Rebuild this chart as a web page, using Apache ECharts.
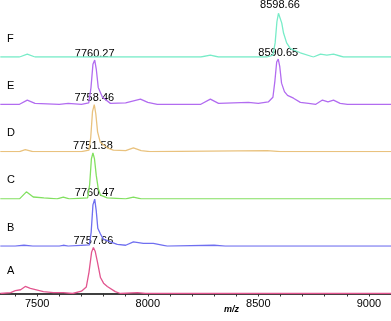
<!DOCTYPE html>
<html>
<head>
<meta charset="utf-8">
<script src="https://cdn.jsdelivr.net/npm/echarts@6/dist/echarts.min.js"></script>
<style>
  html, body { margin: 0; padding: 0; background: #fff; }
  #chart { width: 391px; height: 321px; }
</style>
</head>
<body>
<div id="chart"></div>
<script>
// traces from bottom (A) to top (F), [m/z, relative intensity]
const traceNames = ['A', 'B', 'C', 'D', 'E', 'F']
const traceColors = ['#e2558f', '#6f6ff0', '#82e060', '#e9c27e', '#b26cf0', '#78ecc8']

const specA = [[7333, 0], [7380, 2], [7401, 6], [7425, 8], [7446, 15], [7469, 11], [7528, 4], [7573, 2], [7618, 2], [7660, 0], [7700, 5], [7722, 14], [7734, 45], [7746, 88], [7754, 98], [7762, 90], [7772, 68], [7786, 34], [7800, 22], [7817, 15], [7853, 4], [7876, 0], [7953, 2], [7990, 0], [9102, 0]]
const specB = [[7333, 0], [7400, 0], [7440, 2], [7480, 0], [7600, 0], [7618, 2], [7640, 0], [7736, 3], [7744, 30], [7752, 88], [7760, 100], [7767, 75], [7774, 38], [7786, 26], [7799, 15], [7831, 9], [7862, 4], [7900, 2], [7935, 9], [7980, 6], [8025, 6], [8088, 0], [8300, 2], [8350, 0], [9102, 0]]
const specC = [[7333, 0], [7420, 0], [7451, 15], [7482, 4], [7530, 2], [7590, 0], [7618, 4], [7645, 0], [7728, 2], [7737, 30], [7745, 85], [7752, 98], [7759, 85], [7767, 50], [7776, 22], [7786, 8], [7817, 2], [7900, 0], [7935, 4], [7970, 0], [9102, 0]]
const specD = [[7333, 0], [7420, 0], [7446, 4], [7480, 0], [7700, 0], [7734, 3], [7742, 30], [7750, 85], [7758, 100], [7765, 80], [7773, 42], [7785, 20], [7817, 8], [7844, 3], [7900, 2], [7935, 8], [7970, 2], [8010, 0], [8540, 2], [8600, 0], [9102, 0]]
const specE = [[7333, 0], [7420, 0], [7455, 9], [7490, 2], [7600, 0], [7640, 2], [7700, 0], [7733, 3], [7743, 35], [7752, 85], [7760, 94], [7767, 75], [7776, 36], [7795, 15], [7831, 2], [7900, 3], [7967, 11], [8000, 4], [8043, 0], [8240, 0], [8283, 11], [8320, 2], [8455, 4], [8500, 2], [8545, 5], [8566, 15], [8575, 50], [8583, 90], [8590, 96], [8597, 80], [8605, 45], [8618, 27], [8632, 19], [8659, 13], [8690, 4], [8727, 2], [8760, 0], [8790, 9], [8815, 5], [8840, 9], [8870, 2], [8903, 0], [9102, 0]]
const specF = [[7333, 0], [7420, 0], [7455, 6], [7490, 0], [8240, 0], [8283, 4], [8320, 0], [8540, 0], [8566, 4], [8576, 30], [8584, 75], [8591, 93], [8598, 96], [8606, 72], [8614, 51], [8628, 30], [8645, 18], [8690, 9], [8749, 0], [8781, 6], [8810, 4], [8840, 6], [8885, 0], [9102, 0]]
const spectra = [specA, specB, specC, specD, specE, specF]

// labelled peaks: [m/z, intensity, text]
const peaksA = [[7754, 98, '7757.66']]
const peaksB = [[7760, 100, '7760.47']]
const peaksC = [[7752, 98, '7751.58']]
const peaksD = [[7758, 100, '7758.46']]
const peaksE = [[7760, 94, '7760.27'], [8590, 96, '8590.65']]
const peaksF = [[8598, 96, '8598.66']]
const peaks = [peaksA, peaksB, peaksC, peaksD, peaksE, peaksF]

const xTickLabels = [7500, 8000, 8500, 9000]

const chart = echarts.init(document.getElementById('chart'))

const baseY = 293.5
const step = 47.3
const h = 47
const font = 'Liberation Sans, Arial, sans-serif'

const grids = []
const xAxes = []
const yAxes = []
const series = []
const graphics = []

traceNames.forEach((name, i) => {
  const bottom = baseY - step * i
  grids.push({
    left: -7,
    right: 0,
    top: bottom - h,
    height: h,
    outerBoundsMode: 'none',
    containLabel: false
  })
  const isBottom = i === 0
  xAxes.push({
    type: 'value',
    gridIndex: i,
    min: 7300,
    max: 9100,
    interval: 100,
    show: isBottom,
    axisLine: {show: isBottom, onZero: false, lineStyle: {color: '#000', width: 1.5}},
    axisTick: {show: isBottom, length: 3, lineStyle: {color: '#333'}},
    splitLine: {show: false},
    axisLabel: {
      show: isBottom,
      color: '#000',
      fontSize: 11,
      fontFamily: font,
      margin: 5,
      formatter: v => (xTickLabels.indexOf(v) >= 0 ? String(v) : '')
    }
  })
  yAxes.push({
    type: 'value',
    gridIndex: i,
    min: 0,
    max: 100,
    show: false
  })
  series.push({
    name: name,
    type: 'line',
    xAxisIndex: i,
    yAxisIndex: i,
    data: spectra[i],
    showSymbol: false,
    symbol: 'none',
    silent: true,
    z: 10 - i,
    lineStyle: {color: traceColors[i], width: 1.3},
    markPoint: {
      symbol: 'circle',
      symbolSize: 0,
      silent: true,
      label: {
        show: true,
        position: 'top',
        distance: 1,
        color: '#000',
        fontSize: 11,
        fontFamily: font,
        formatter: '{b}'
      },
      data: peaks[i].map(p => ({coord: [p[0], p[1]], name: p[2]}))
    }
  })
  graphics.push({
    type: 'text',
    left: 7,
    top: bottom - 20 - (i === 0 ? 4 : 0) - 4,
    style: {text: name, fill: '#000', font: '11px ' + font}
  })
})

graphics.push({
  type: 'text',
  left: 224,
  top: 305,
  style: {text: 'm/z', fill: '#000', font: 'italic bold 9px ' + font}
})

const option = {
  animation: false,
  backgroundColor: '#fff',
  grid: grids,
  xAxis: xAxes,
  yAxis: yAxes,
  series: series,
  graphic: graphics
}
chart.setOption(option)
</script>
</body>
</html>
